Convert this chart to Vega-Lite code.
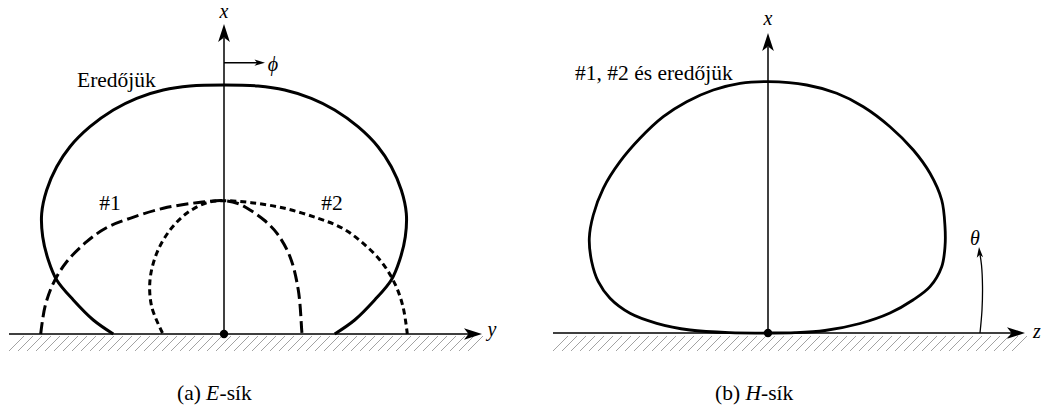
{
  "$schema": "https://vega.github.io/schema/vega-lite/v6.json",
  "width": 1041,
  "height": 410,
  "padding": 0,
  "autosize": {"type": "fit", "contains": "padding"},
  "background": "white",
  "config": {"view": {"stroke": null}},
  "datasets": {
    "curves": [
      {"c":"R","i":1,"x":113.3,"y":76},{"c":"R","i":2,"x":93.3,"y":90},{"c":"R","i":3,"x":73.3,"y":110},{"c":"R","i":4,"x":56.7,"y":130},{"c":"R","i":5,"x":48.3,"y":150},{"c":"R","i":6,"x":42.7,"y":173.3},{"c":"R","i":7,"x":41.7,"y":196.7},{"c":"R","i":8,"x":46.7,"y":220},{"c":"R","i":9,"x":56.7,"y":243.3},{"c":"R","i":10,"x":70,"y":263.3},{"c":"R","i":11,"x":90,"y":283.3},{"c":"R","i":12,"x":113.3,"y":300},{"c":"R","i":13,"x":136.7,"y":311.7},{"c":"R","i":14,"x":163.3,"y":320},{"c":"R","i":15,"x":190,"y":324},{"c":"R","i":16,"x":224,"y":325},{"c":"R","i":17,"x":258,"y":324},{"c":"R","i":18,"x":284.7,"y":320},{"c":"R","i":19,"x":311.3,"y":311.7},{"c":"R","i":20,"x":334.7,"y":300},{"c":"R","i":21,"x":358,"y":283.3},{"c":"R","i":22,"x":378,"y":263.3},{"c":"R","i":23,"x":391.3,"y":243.3},{"c":"R","i":24,"x":401.3,"y":220},{"c":"R","i":25,"x":406.3,"y":196.7},{"c":"R","i":26,"x":405.3,"y":173.3},{"c":"R","i":27,"x":399.7,"y":150},{"c":"R","i":28,"x":391.3,"y":130},{"c":"R","i":29,"x":374.7,"y":110},{"c":"R","i":30,"x":354.7,"y":90},{"c":"R","i":31,"x":334.7,"y":76},
      {"c":"D1","i":1,"x":40.7,"y":76},{"c":"D1","i":2,"x":45,"y":103.3},{"c":"D1","i":3,"x":53.3,"y":126.7},{"c":"D1","i":4,"x":66.7,"y":148.3},{"c":"D1","i":5,"x":86.7,"y":168.3},{"c":"D1","i":6,"x":106,"y":182},{"c":"D1","i":7,"x":130,"y":191.7},{"c":"D1","i":8,"x":163.3,"y":201.7},{"c":"D1","i":9,"x":196.7,"y":207.3},{"c":"D1","i":10,"x":224,"y":209.3},{"c":"D1","i":11,"x":238,"y":206.5},{"c":"D1","i":12,"x":250,"y":200},{"c":"D1","i":13,"x":264,"y":190},{"c":"D1","i":14,"x":277,"y":176.7},{"c":"D1","i":15,"x":290,"y":153.3},{"c":"D1","i":16,"x":298.3,"y":120},{"c":"D1","i":17,"x":301.7,"y":80},{"c":"D1","i":18,"x":302,"y":76},
      {"c":"D2","i":1,"x":162.5,"y":77},{"c":"D2","i":2,"x":151.7,"y":103.3},{"c":"D2","i":3,"x":150,"y":130},{"c":"D2","i":4,"x":156.7,"y":156.7},{"c":"D2","i":5,"x":170,"y":180},{"c":"D2","i":6,"x":186.7,"y":196.7},{"c":"D2","i":7,"x":206.7,"y":207.3},{"c":"D2","i":8,"x":224,"y":209.3},{"c":"D2","i":9,"x":251.3,"y":207.3},{"c":"D2","i":10,"x":284.7,"y":201.7},{"c":"D2","i":11,"x":318,"y":191.7},{"c":"D2","i":12,"x":342,"y":182},{"c":"D2","i":13,"x":361.3,"y":168.3},{"c":"D2","i":14,"x":381.3,"y":148.3},{"c":"D2","i":15,"x":394.7,"y":126.7},{"c":"D2","i":16,"x":403,"y":103.3},{"c":"D2","i":17,"x":407.3,"y":76},
      {"c":"H","i":1,"x":768,"y":77},{"c":"H","i":2,"x":730,"y":77.3},{"c":"H","i":3,"x":690,"y":80},{"c":"H","i":4,"x":656.7,"y":86.7},{"c":"H","i":5,"x":630,"y":96.7},{"c":"H","i":6,"x":610,"y":111.7},{"c":"H","i":7,"x":598.3,"y":128.3},{"c":"H","i":8,"x":591.7,"y":148.3},{"c":"H","i":9,"x":589.3,"y":171.7},{"c":"H","i":10,"x":593.3,"y":195},{"c":"H","i":11,"x":603.3,"y":221.7},{"c":"H","i":12,"x":620,"y":248.3},{"c":"H","i":13,"x":640,"y":271.7},{"c":"H","i":14,"x":663.3,"y":293.3},{"c":"H","i":15,"x":686.7,"y":308.3},{"c":"H","i":16,"x":713.3,"y":320},{"c":"H","i":17,"x":740,"y":326.7},{"c":"H","i":18,"x":768.3,"y":328.3},{"c":"H","i":19,"x":806.7,"y":325},{"c":"H","i":20,"x":836.7,"y":316.7},{"c":"H","i":21,"x":863.3,"y":303.3},{"c":"H","i":22,"x":890,"y":283.3},{"c":"H","i":23,"x":913.3,"y":260},{"c":"H","i":24,"x":930,"y":236.7},{"c":"H","i":25,"x":941.7,"y":210},{"c":"H","i":26,"x":945,"y":183.3},{"c":"H","i":27,"x":945,"y":163.3},{"c":"H","i":28,"x":941.7,"y":143.3},{"c":"H","i":29,"x":930,"y":123.3},{"c":"H","i":30,"x":913,"y":110},{"c":"H","i":31,"x":890,"y":97},{"c":"H","i":32,"x":860,"y":86.5},{"c":"H","i":33,"x":825,"y":79.5},{"c":"H","i":34,"x":795,"y":77.3},{"c":"H","i":35,"x":768,"y":77},
      {"c":"T","i":1,"x":980,"y":77},{"c":"T","i":2,"x":982,"y":100},{"c":"T","i":3,"x":982.5,"y":124},{"c":"T","i":4,"x":981.5,"y":145},{"c":"T","i":5,"x":979.6,"y":158}
    ],
    "rules": [
      {"x1":9,"y1":76,"x2":472,"y2":76},
      {"x1":224,"y1":76,"x2":224,"y2":372},
      {"x1":553,"y1":77,"x2":1015,"y2":77},
      {"x1":768,"y1":77,"x2":768,"y2":363},
      {"x1":224,"y1":347.3,"x2":259,"y2":347.3}
    ],
    "heads": [
      {"x":482,"y":76,"deg":0,"k":"big"},
      {"x":224,"y":386,"deg":-90,"k":"big"},
      {"x":1025,"y":77,"deg":0,"k":"big"},
      {"x":768,"y":377,"deg":-90,"k":"big"},
      {"x":265,"y":347.3,"deg":0,"k":"small"},
      {"x":979,"y":163,"deg":-95,"k":"small"}
    ],
    "dots": [{"x":224,"y":76},{"x":768,"y":77}],
    "hatch": [
      {"a":9,"b":24},{"a":18,"b":33},{"a":27,"b":42},{"a":36,"b":51},{"a":45,"b":60},{"a":54,"b":69},{"a":63,"b":78},{"a":72,"b":87},{"a":81,"b":96},{"a":90,"b":105},{"a":99,"b":114},{"a":108,"b":123},{"a":117,"b":132},{"a":126,"b":141},{"a":135,"b":150},{"a":144,"b":159},{"a":153,"b":168},{"a":162,"b":177},{"a":171,"b":186},{"a":180,"b":195},{"a":189,"b":204},{"a":198,"b":213},{"a":207,"b":222},{"a":216,"b":231},{"a":225,"b":240},{"a":234,"b":249},{"a":243,"b":258},{"a":252,"b":267},{"a":261,"b":276},{"a":270,"b":285},{"a":279,"b":294},{"a":288,"b":303},{"a":297,"b":312},{"a":306,"b":321},{"a":315,"b":330},{"a":324,"b":339},{"a":333,"b":348},{"a":342,"b":357},{"a":351,"b":366},{"a":360,"b":375},{"a":369,"b":384},{"a":378,"b":393},{"a":387,"b":402},{"a":396,"b":411},{"a":405,"b":420},{"a":414,"b":429},{"a":423,"b":438},{"a":432,"b":447},{"a":441,"b":456},{"a":450,"b":465},{"a":459,"b":474},{"a":468,"b":483},
      {"a":553,"b":568},{"a":562,"b":577},{"a":571,"b":586},{"a":580,"b":595},{"a":589,"b":604},{"a":598,"b":613},{"a":607,"b":622},{"a":616,"b":631},{"a":625,"b":640},{"a":634,"b":649},{"a":643,"b":658},{"a":652,"b":667},{"a":661,"b":676},{"a":670,"b":685},{"a":679,"b":694},{"a":688,"b":703},{"a":697,"b":712},{"a":706,"b":721},{"a":715,"b":730},{"a":724,"b":739},{"a":733,"b":748},{"a":742,"b":757},{"a":751,"b":766},{"a":760,"b":775},{"a":769,"b":784},{"a":778,"b":793},{"a":787,"b":802},{"a":796,"b":811},{"a":805,"b":820},{"a":814,"b":829},{"a":823,"b":838},{"a":832,"b":847},{"a":841,"b":856},{"a":850,"b":865},{"a":859,"b":874},{"a":868,"b":883},{"a":877,"b":892},{"a":886,"b":901},{"a":895,"b":910},{"a":904,"b":919},{"a":913,"b":928},{"a":922,"b":937},{"a":931,"b":946},{"a":940,"b":955},{"a":949,"b":964},{"a":958,"b":973},{"a":967,"b":982},{"a":976,"b":991},{"a":985,"b":1000},{"a":994,"b":1009},{"a":1003,"b":1018},{"a":1012,"b":1027}
    ],
    "texts": [
      {"t":"x","x":224,"y":392,"g":"ic"},
      {"t":"ϕ","x":273,"y":339,"g":"ic"},
      {"t":"y","x":492,"y":74,"g":"ic"},
      {"t":"x","x":768,"y":385,"g":"ic"},
      {"t":"θ","x":975,"y":165,"g":"ic"},
      {"t":"z","x":1037,"y":72,"g":"ic"},
      {"t":"#1","x":110,"y":200,"g":"nc"},
      {"t":"#2","x":332,"y":200,"g":"nc"},
      {"t":"Eredőjük","x":77,"y":323,"g":"nl"},
      {"t":"#1, #2 és eredőjük","x":575,"y":330,"g":"nl"},
      {"t":"(a) ","x":177,"y":10,"g":"nl"},
      {"t":"-sík","x":219.5,"y":10,"g":"nl"},
      {"t":"(b) ","x":715,"y":10,"g":"nl"},
      {"t":"-sík","x":761,"y":10,"g":"nl"},
      {"t":"E","x":206,"y":10,"g":"il"},
      {"t":"H","x":745.5,"y":10,"g":"il"}
    ]
  },
  "layer": [
    {
      "data": {"name": "hatch"},
      "mark": {"type": "rule", "stroke": "#8c8c8c", "strokeWidth": 0.8},
      "encoding": {
        "x": {"field": "a", "type": "quantitative", "scale": {"domain": [0, 1041], "nice": false, "zero": false}, "axis": null},
        "y": {"datum": 59, "type": "quantitative", "scale": {"domain": [0, 410], "nice": false, "zero": false}, "axis": null},
        "x2": {"field": "b"},
        "y2": {"datum": 74}
      }
    },
    {
      "data": {"name": "rules"},
      "mark": {"type": "rule", "stroke": "black", "strokeWidth": 1.5},
      "encoding": {
        "x": {"field": "x1", "type": "quantitative"},
        "y": {"field": "y1", "type": "quantitative"},
        "x2": {"field": "x2"},
        "y2": {"field": "y2"}
      }
    },
    {
      "data": {"name": "curves"},
      "transform": [{"filter": "datum.c === 'T'"}],
      "mark": {"type": "line", "stroke": "black", "strokeWidth": 1.3, "interpolate": "catmull-rom"},
      "encoding": {
        "x": {"field": "x", "type": "quantitative"},
        "y": {"field": "y", "type": "quantitative"},
        "order": {"field": "i", "type": "quantitative"}
      }
    },
    {
      "data": {"name": "curves"},
      "transform": [{"filter": "datum.c === 'R'"}],
      "mark": {"type": "line", "stroke": "black", "strokeWidth": 3, "interpolate": "catmull-rom"},
      "encoding": {
        "x": {"field": "x", "type": "quantitative"},
        "y": {"field": "y", "type": "quantitative"},
        "order": {"field": "i", "type": "quantitative"}
      }
    },
    {
      "data": {"name": "curves"},
      "transform": [{"filter": "datum.c === 'D1'"}],
      "mark": {"type": "line", "stroke": "black", "strokeWidth": 3, "strokeDash": [12, 5], "strokeCap": "butt", "interpolate": "catmull-rom"},
      "encoding": {
        "x": {"field": "x", "type": "quantitative"},
        "y": {"field": "y", "type": "quantitative"},
        "order": {"field": "i", "type": "quantitative"}
      }
    },
    {
      "data": {"name": "curves"},
      "transform": [{"filter": "datum.c === 'D2'"}],
      "mark": {"type": "line", "stroke": "black", "strokeWidth": 3, "strokeDash": [6, 4], "strokeCap": "butt", "interpolate": "catmull-rom"},
      "encoding": {
        "x": {"field": "x", "type": "quantitative"},
        "y": {"field": "y", "type": "quantitative"},
        "order": {"field": "i", "type": "quantitative"}
      }
    },
    {
      "data": {"name": "curves"},
      "transform": [{"filter": "datum.c === 'H'"}],
      "mark": {"type": "line", "stroke": "black", "strokeWidth": 2.8, "interpolate": "catmull-rom"},
      "encoding": {
        "x": {"field": "x", "type": "quantitative"},
        "y": {"field": "y", "type": "quantitative"},
        "order": {"field": "i", "type": "quantitative"}
      }
    },
    {
      "data": {"name": "heads"},
      "transform": [{"filter": "datum.k === 'big'"}],
      "mark": {"type": "point", "shape": "M0,0L-2,-0.65L-1.5,0L-2,0.65Z", "filled": true, "fill": "black", "stroke": null, "size": 324, "opacity": 1},
      "encoding": {
        "x": {"field": "x", "type": "quantitative"},
        "y": {"field": "y", "type": "quantitative"},
        "angle": {"field": "deg", "type": "quantitative", "scale": null}
      }
    },
    {
      "data": {"name": "heads"},
      "transform": [{"filter": "datum.k === 'small'"}],
      "mark": {"type": "point", "shape": "M0,0L-2,-0.6L-1.5,0L-2,0.6Z", "filled": true, "fill": "black", "stroke": null, "size": 110, "opacity": 1},
      "encoding": {
        "x": {"field": "x", "type": "quantitative"},
        "y": {"field": "y", "type": "quantitative"},
        "angle": {"field": "deg", "type": "quantitative", "scale": null}
      }
    },
    {
      "data": {"name": "dots"},
      "mark": {"type": "circle", "fill": "black", "size": 70, "opacity": 1},
      "encoding": {
        "x": {"field": "x", "type": "quantitative"},
        "y": {"field": "y", "type": "quantitative"}
      }
    },
    {
      "data": {"name": "texts"},
      "transform": [{"filter": "datum.g === 'ic'"}],
      "mark": {"type": "text", "font": "Liberation Serif", "fontSize": 20, "fontStyle": "italic", "align": "center", "baseline": "alphabetic", "color": "black"},
      "encoding": {
        "x": {"field": "x", "type": "quantitative"},
        "y": {"field": "y", "type": "quantitative"},
        "text": {"field": "t"}
      }
    },
    {
      "data": {"name": "texts"},
      "transform": [{"filter": "datum.g === 'nc'"}],
      "mark": {"type": "text", "font": "Liberation Serif", "fontSize": 21.5, "align": "center", "baseline": "alphabetic", "color": "black"},
      "encoding": {
        "x": {"field": "x", "type": "quantitative"},
        "y": {"field": "y", "type": "quantitative"},
        "text": {"field": "t"}
      }
    },
    {
      "data": {"name": "texts"},
      "transform": [{"filter": "datum.g === 'nl'"}],
      "mark": {"type": "text", "font": "Liberation Serif", "fontSize": 21.5, "align": "left", "baseline": "alphabetic", "color": "black"},
      "encoding": {
        "x": {"field": "x", "type": "quantitative"},
        "y": {"field": "y", "type": "quantitative"},
        "text": {"field": "t"}
      }
    },
    {
      "data": {"name": "texts"},
      "transform": [{"filter": "datum.g === 'il'"}],
      "mark": {"type": "text", "font": "Liberation Serif", "fontSize": 21.5, "fontStyle": "italic", "align": "left", "baseline": "alphabetic", "color": "black"},
      "encoding": {
        "x": {"field": "x", "type": "quantitative"},
        "y": {"field": "y", "type": "quantitative"},
        "text": {"field": "t"}
      }
    }
  ]
}
